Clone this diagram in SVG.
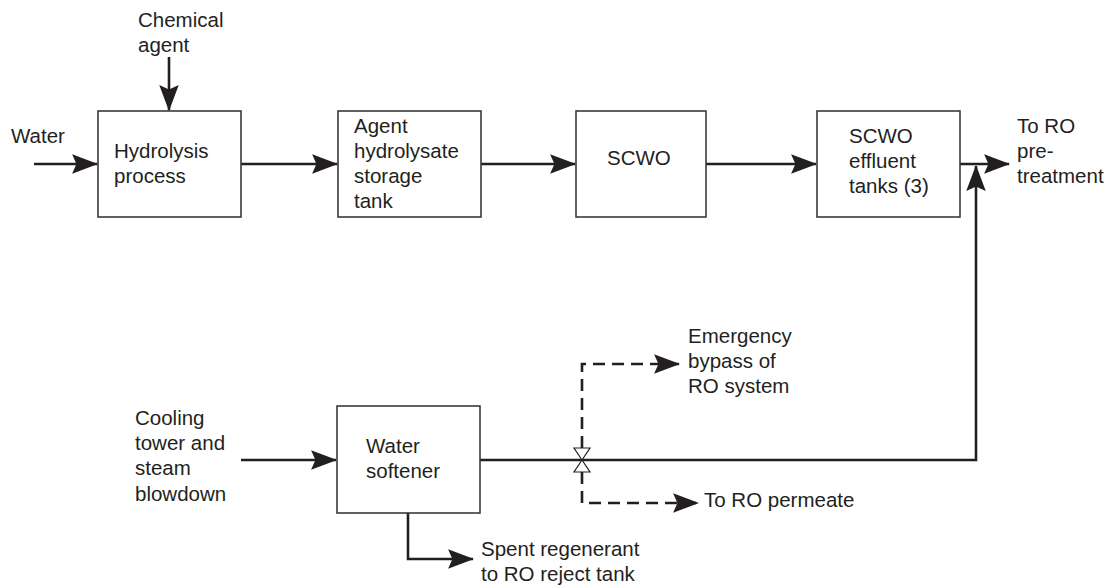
<svg xmlns="http://www.w3.org/2000/svg" width="1109" height="586" viewBox="0 0 1109 586">
<defs>
<marker id="ah" markerUnits="userSpaceOnUse" markerWidth="26" markerHeight="20" viewBox="0 0 24 18" refX="23" refY="9" orient="auto">
<path d="M0,0 L24,9 L0,18 L4,9 z" fill="#231f20"/>
</marker>
<style>
.box{fill:#fff;stroke:#3a3a3a;stroke-width:1.6}
.ln{fill:none;stroke:#231f20;stroke-width:2.6}
.dash{fill:none;stroke:#231f20;stroke-width:2.6;stroke-dasharray:12 7}
.t{font-family:"Liberation Sans",Arial,sans-serif;font-size:20.5px;fill:#231f20}
.valve{fill:#fff;stroke:#231f20;stroke-width:1.2}
</style>
</defs>
<rect width="1109" height="586" fill="#fff"/>

<g id="connectors">
<line class="ln" x1="34" y1="164" x2="97" y2="164" marker-end="url(#ah)"/>
<line class="ln" x1="169" y1="57" x2="169" y2="110" marker-end="url(#ah)"/>
<line class="ln" x1="241" y1="164" x2="337" y2="164" marker-end="url(#ah)"/>
<line class="ln" x1="481" y1="164" x2="575" y2="164" marker-end="url(#ah)"/>
<line class="ln" x1="706" y1="164" x2="816" y2="164" marker-end="url(#ah)"/>
<line class="ln" x1="960" y1="164" x2="1009" y2="164" marker-end="url(#ah)"/>
<polyline class="ln" points="480,460 976,460 976,166" marker-end="url(#ah)"/>
<line class="ln" x1="241" y1="460" x2="336" y2="460" marker-end="url(#ah)"/>
<polyline class="dash" points="582,448 582,364 679,364" marker-end="url(#ah)"/>
<polyline class="dash" points="582,472 582,503 698,503" marker-end="url(#ah)"/>
<polyline class="ln" points="408,513 408,559 473,559" marker-end="url(#ah)"/>
<polygon class="valve" points="574,448 590,448 582,460"/>
<polygon class="valve" points="582,460 574,472 590,472"/>
</g>

<g id="label-chemical"><text class="t" x="138" y="27">Chemical</text><text class="t" x="138" y="52">agent</text></g>
<g id="label-water"><text class="t" x="11" y="143">Water</text></g>

<g id="node-hydrolysis">
<rect class="box" x="98" y="111" width="143" height="106"/>
<text class="t" x="114" y="158">Hydrolysis</text>
<text class="t" x="114" y="183">process</text>
</g>
<g id="node-storage">
<rect class="box" x="338" y="111" width="143" height="106"/>
<text class="t" x="354" y="133">Agent</text>
<text class="t" x="354" y="158">hydrolysate</text>
<text class="t" x="354" y="183">storage</text>
<text class="t" x="354" y="208">tank</text>
</g>
<g id="node-scwo">
<rect class="box" x="576" y="111" width="130" height="106"/>
<text class="t" x="607" y="165">SCWO</text>
</g>
<g id="node-effluent">
<rect class="box" x="817" y="111" width="143" height="106"/>
<text class="t" x="849" y="143">SCWO</text>
<text class="t" x="849" y="168">effluent</text>
<text class="t" x="849" y="193">tanks (3)</text>
</g>
<g id="label-ro-pretreatment">
<text class="t" x="1017" y="133">To RO</text>
<text class="t" x="1017" y="158">pre-</text>
<text class="t" x="1017" y="183">treatment</text>
</g>
<g id="label-cooling">
<text class="t" x="135" y="425">Cooling</text>
<text class="t" x="135" y="450">tower and</text>
<text class="t" x="135" y="475">steam</text>
<text class="t" x="135" y="501">blowdown</text>
</g>
<g id="node-softener">
<rect class="box" x="337" y="406" width="143" height="107"/>
<text class="t" x="366" y="453">Water</text>
<text class="t" x="366" y="478">softener</text>
</g>
<g id="label-bypass">
<text class="t" x="688" y="343">Emergency</text>
<text class="t" x="688" y="368">bypass of</text>
<text class="t" x="688" y="393">RO system</text>
</g>
<g id="label-permeate"><text class="t" x="704" y="507">To RO permeate</text></g>
<g id="label-spent">
<text class="t" x="481" y="556">Spent regenerant</text>
<text class="t" x="481" y="581">to RO reject tank</text>
</g>
</svg>
